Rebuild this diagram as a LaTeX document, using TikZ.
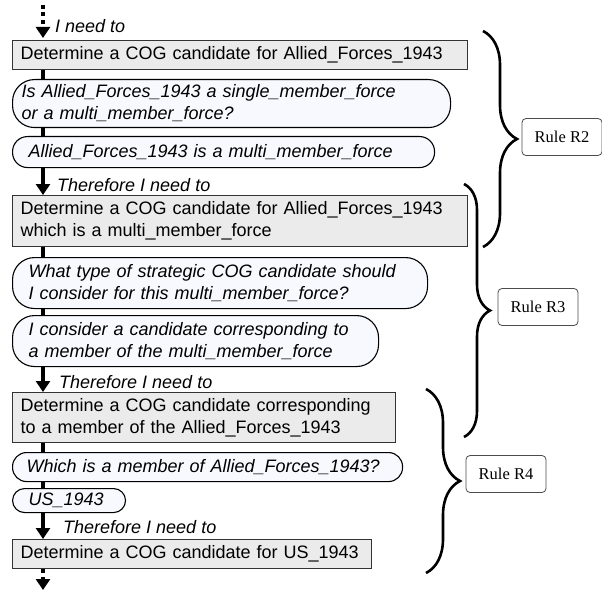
\documentclass[tikz,border=0pt]{standalone}
\usepackage{fontspec}
\setmainfont{Liberation Sans}
\newfontfamily\rulefont{Liberation Serif}
\usetikzlibrary{arrows.meta,decorations.pathreplacing}
\definecolor{taskfill}{HTML}{EBEBEB}
\definecolor{quesfill}{HTML}{F8F9FE}

\begin{document}
\begin{tikzpicture}[x=1pt,y=-1pt,
        task/.style={draw=black!80, fill=taskfill, line width=1.1pt, anchor=north west,
            align=left, inner xsep=8pt, inner ysep=0pt, font=\fontsize{18}{22}\selectfont},
        ques/.style={draw=black, fill=quesfill, line width=1.1pt, rounded corners=#1,
            anchor=north west, align=left, inner xsep=16pt, inner ysep=0pt,
            font=\fontsize{18}{22}\selectfont\itshape},
        note/.style={anchor=base west, inner sep=0pt, font=\fontsize{18}{22}\selectfont\itshape},
        rulebox/.style={draw=black!70, fill=white, rounded corners=4pt, line width=0.8pt,
            minimum width=80pt, minimum height=37pt, font=\rulefont\fontsize{16.5}{19}\selectfont},
        link/.style={line width=4pt},
        flow/.style={line width=4pt, -{Triangle[width=14pt,length=11pt]}},
        dotflow/.style={flow, dash pattern=on 4pt off 3.5pt},
        brace/.style={decorate, decoration={brace, amplitude=#1}, line width=2.6pt}]
    \useasboundingbox (0,0) rectangle (602,591);
    \coordinate (top) at (43,5);
    \coordinate (bottom) at (43,590);

    % reduction steps
    \node[task, text width=439pt, minimum height=29pt] (task1) at (12,40)
        {Determine a COG candidate for Allied\_Forces\_1943};
    \node[ques=22pt, inner xsep=9pt, text width=420pt, minimum height=48pt] (ques1) at (12,79)
        {Is Allied\_Forces\_1943 a single\_member\_force\\or a multi\_member\_force?};
    \node[ques=15pt, text width=390pt, minimum height=31pt] (ans1) at (12,136)
        {Allied\_Forces\_1943 is a multi\_member\_force};
    \node[task, text width=439pt, minimum height=51pt] (task2) at (12,195)
        {Determine a COG candidate for Allied\_Forces\_1943\\which is a multi\_member\_force};
    \node[ques=22pt, text width=383pt, minimum height=51pt] (ques2) at (12,257)
        {What type of strategic COG candidate should\\I consider for this multi\_member\_force?};
    \node[ques=22pt, text width=334pt, minimum height=51pt] (ans2) at (12,315)
        {I consider a candidate corresponding to\\a member of the multi\_member\_force};
    \node[task, text width=367pt, minimum height=50pt] (task3) at (12,392)
        {Determine a COG candidate corresponding\\to a member of the Allied\_Forces\_1943};
    \node[ques=14pt, inner xsep=14pt, text width=362pt, minimum height=29pt] (ques3) at (12,452)
        {Which is a member of Allied\_Forces\_1943?};
    \node[ques=12pt, text width=81pt, minimum height=24pt] (ans3) at (12,488)
        {US\_1943};
    \node[task, text width=343pt, minimum height=29pt] (task4) at (12,539)
        {Determine a COG candidate for US\_1943};

    % spine
    \draw[dotflow, shorten >=2pt] (top) -- (task1.north -| top);
    \draw[link] (task1.south -| top) -- (ques1.north -| top);
    \draw[link] (ques1.south -| top) -- (ans1.north -| top);
    \draw[flow] (ans1.south -| top) -- (task2.north -| top);
    \draw[link] (task2.south -| top) -- (ques2.north -| top);
    \draw[link] (ques2.south -| top) -- (ans2.north -| top);
    \draw[flow] (ans2.south -| top) -- (task3.north -| top);
    \draw[link] (task3.south -| top) -- (ques3.north -| top);
    \draw[link] (ques3.south -| top) -- (ans3.north -| top);
    \draw[flow] (ans3.south -| top) -- (task4.north -| top);
    \draw[dotflow] (task4.south -| top) -- (bottom);

    \node[note] (need1) at (55,33) {I need to};
    \node[note] (need2) at (57,191) {Therefore I need to};
    \node[note] (need3) at (59,388) {Therefore I need to};
    \node[note] (need4) at (63,533) {Therefore I need to};

    % rules
    \draw[brace=34pt] (483,31) -- (483,247);
    \draw[brace=26pt] (464,184) -- (464,437);
    \draw[brace=34pt] (426,389) -- (426,573);
    \node[rulebox] (rule2) at (562,137) {Rule R2};
    \node[rulebox] (rule3) at (538,307) {Rule R3};
    \node[rulebox] (rule4) at (506,474) {Rule R4};
\end{tikzpicture}
\end{document}
